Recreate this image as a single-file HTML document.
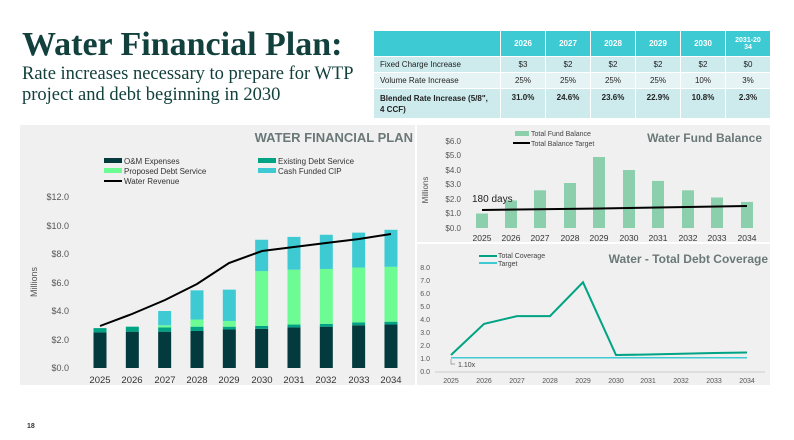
<!DOCTYPE html>
<html><head><meta charset="utf-8"><style>
body{margin:0;width:794px;height:440px;background:#fff;position:relative;overflow:hidden;font-family:"Liberation Sans",sans-serif}
.t{position:absolute;left:22px;top:26px;font:bold 34px "Liberation Serif",serif;color:#12403c}
.s{position:absolute;left:22px;top:64px;font:18.5px/21px "Liberation Serif",serif;color:#12403c}
table{position:absolute;left:373px;top:30px;border-collapse:collapse;font-size:8px;color:#222}
td{border:1px solid #fff;text-align:center;padding:0}
</style></head><body>
<div class="t">Water Financial Plan:</div>
<div class="s">Rate increases necessary to prepare for WTP<br>project and debt beginning in 2030</div>
<table>
<tr style="background:#3ecad3;color:#fff;font-weight:bold;height:26px"><td style="width:126px"></td><td style="width:44px">2026</td><td style="width:44px">2027</td><td style="width:44px">2028</td><td style="width:44px">2029</td><td style="width:44px">2030</td><td style="width:44px;font-size:7px">2031-20<br>34</td></tr>
<tr style="background:#cdeaec;height:16px"><td style="text-align:left;padding-left:6px">Fixed Charge Increase</td><td>$3</td><td>$2</td><td>$2</td><td>$2</td><td>$2</td><td>$0</td></tr>
<tr style="background:#e6f3f4;height:16px"><td style="text-align:left;padding-left:6px">Volume Rate Increase</td><td>25%</td><td>25%</td><td>25%</td><td>25%</td><td>10%</td><td>3%</td></tr>
<tr style="background:#cdeaec;height:30px;font-weight:bold"><td style="text-align:left;padding-left:6px;line-height:11px">Blended Rate Increase (5/8",<br>4 CCF)</td><td style="vertical-align:top;padding-top:4px">31.0%</td><td style="vertical-align:top;padding-top:4px">24.6%</td><td style="vertical-align:top;padding-top:4px">23.6%</td><td style="vertical-align:top;padding-top:4px">22.9%</td><td style="vertical-align:top;padding-top:4px">10.8%</td><td style="vertical-align:top;padding-top:4px">2.3%</td></tr>
</table>
<svg width="794" height="440" style="position:absolute;left:0;top:0" font-family="Liberation Sans,sans-serif">
<rect x="20" y="125" width="395" height="260" fill="#f0f0f0"/>
<rect x="417" y="125" width="353" height="117" fill="#f0f0f0"/>
<rect x="417" y="244" width="353" height="141" fill="#f0f0f0"/>
<text x="27" y="428" font-size="7" font-weight="bold" fill="#333">18</text>
<text x="413" y="142" text-anchor="end" font-size="13" font-weight="bold" fill="#6b7878">WATER FINANCIAL PLAN</text>
<g font-size="8" fill="#333">
<rect x="104" y="158" width="18" height="5" fill="#023a3e"/><text x="124" y="164">O&amp;M Expenses</text>
<rect x="258" y="158" width="18" height="5" fill="#00a383"/><text x="278" y="164">Existing Debt Service</text>
<rect x="104" y="168" width="18" height="5" fill="#6cfc93"/><text x="124" y="174">Proposed Debt Service</text>
<rect x="258" y="168" width="18" height="5" fill="#3ecad3"/><text x="278" y="174">Cash Funded CIP</text>
<line x1="104" y1="181" x2="122" y2="181" stroke="#000" stroke-width="2"/><text x="124" y="184">Water Revenue</text>
</g>
<g font-size="9" fill="#555" text-anchor="end">
<text x="69" y="371">$0.0</text><text x="69" y="343">$2.0</text><text x="69" y="314">$4.0</text><text x="69" y="286">$6.0</text><text x="69" y="257">$8.0</text><text x="69" y="229">$10.0</text><text x="69" y="200">$12.0</text>
</g>
<text transform="translate(37,282) rotate(-90)" font-size="9" fill="#555" text-anchor="middle">Millions</text>
<g id="bars"></g>
<polyline points="100,326 132,314 165,300 197,284 229,263 262,251 294,247 326,243 359,239 391,234" fill="none" stroke="#000" stroke-width="2"/>
<g font-size="9.5" fill="#333" text-anchor="middle">
<text x="100" y="383">2025</text><text x="132" y="383">2026</text><text x="165" y="383">2027</text><text x="197" y="383">2028</text><text x="229" y="383">2029</text><text x="262" y="383">2030</text><text x="294" y="383">2031</text><text x="326" y="383">2032</text><text x="359" y="383">2033</text><text x="391" y="383">2034</text>
</g>
<text x="762" y="142" text-anchor="end" font-size="12" font-weight="bold" fill="#6b7878">Water Fund Balance</text>
<rect x="515" y="131" width="14" height="5" fill="#8ccfad"/><text x="531" y="136" font-size="7" fill="#444">Total Fund Balance</text>
<line x1="513" y1="143" x2="530" y2="143" stroke="#000" stroke-width="2"/><text x="531" y="146" font-size="7" fill="#444">Total Balance Target</text>
<g font-size="8" fill="#555" text-anchor="end">
<text x="461" y="231">$0.0</text><text x="461" y="216">$1.0</text><text x="461" y="202">$2.0</text><text x="461" y="187">$3.0</text><text x="461" y="173">$4.0</text><text x="461" y="158">$5.0</text><text x="461" y="144">$6.0</text>
</g>
<text transform="translate(428,190) rotate(-90)" font-size="8" fill="#555" text-anchor="middle">Millions</text>
<g fill="#8ccfad">
<rect x="476" y="213.5" width="12" height="14.5"/><rect x="505" y="200.5" width="12" height="27.5"/><rect x="534" y="190.3" width="12" height="37.7"/><rect x="564" y="183" width="12" height="45"/><rect x="593" y="157" width="12" height="71"/><rect x="623" y="170" width="12" height="58"/><rect x="652" y="180.9" width="12" height="47.1"/><rect x="682" y="190.3" width="12" height="37.7"/><rect x="711" y="197.5" width="12" height="30.5"/><rect x="741" y="201.9" width="12" height="26.1"/>
</g>
<polyline points="482,210 600,208.5 747,206" fill="none" stroke="#000" stroke-width="2"/>
<text x="472" y="202" font-size="10" fill="#222">180 days</text>
<g font-size="8.5" fill="#333" text-anchor="middle">
<text x="482" y="241">2025</text><text x="511" y="241">2026</text><text x="540" y="241">2027</text><text x="570" y="241">2028</text><text x="599" y="241">2029</text><text x="629" y="241">2030</text><text x="658" y="241">2031</text><text x="688" y="241">2032</text><text x="717" y="241">2033</text><text x="747" y="241">2034</text>
</g>
<text x="768" y="263" text-anchor="end" font-size="12" font-weight="bold" fill="#6b7878">Water - Total Debt Coverage</text>
<line x1="479" y1="256" x2="497" y2="256" stroke="#00a383" stroke-width="2"/><text x="498" y="258" font-size="7" fill="#444">Total Coverage</text>
<line x1="479" y1="263" x2="497" y2="263" stroke="#3ecad3" stroke-width="2"/><text x="498" y="266" font-size="7" fill="#444">Target</text>
<g font-size="7" fill="#555" text-anchor="end">
<text x="430" y="374">0.0</text><text x="430" y="361">1.0</text><text x="430" y="348">2.0</text><text x="430" y="335">3.0</text><text x="430" y="322">4.0</text><text x="430" y="309">5.0</text><text x="430" y="296">6.0</text><text x="430" y="283">7.0</text><text x="430" y="270">8.0</text>
</g>
<line x1="435" y1="372" x2="765" y2="372" stroke="#ccc"/>
<line x1="451" y1="357.7" x2="747" y2="357.7" stroke="#3ecad3" stroke-width="1.5"/>
<polyline points="451,355 484,323.9 517,316.1 550,316.1 583,282.3 616,355 648,354.5 681,353.8 714,353 747,352.5" fill="none" stroke="#00a383" stroke-width="2"/>
<polyline points="451,359 451,364 455,364" fill="none" stroke="#888" stroke-width="0.7"/>
<text x="458" y="367" font-size="7" fill="#444">1.10x</text>
<g font-size="7" fill="#555" text-anchor="middle">
<text x="451" y="383">2025</text><text x="484" y="383">2026</text><text x="517" y="383">2027</text><text x="550" y="383">2028</text><text x="583" y="383">2029</text><text x="616" y="383">2030</text><text x="648" y="383">2031</text><text x="681" y="383">2032</text><text x="714" y="383">2033</text><text x="747" y="383">2034</text>
</g>
</svg>
<script>
var om=[2.5,2.55,2.55,2.6,2.7,2.75,2.85,2.9,3.0,3.05],ex=[.3,.35,.3,.3,.2,.2,.2,.2,.2,.2],pr=[0,0,.15,.5,.4,3.85,3.85,3.85,3.85,3.85],ca=[0,0,1.0,2.05,2.2,2.2,2.3,2.4,2.45,2.6];
var g=document.getElementById('bars'),s='',k=14.25;
for(var i=0;i<10;i++){var cx=100+i*32.33,y=368,arr=[[om[i],'#023a3e'],[ex[i],'#00a383'],[pr[i],'#6cfc93'],[ca[i],'#3ecad3']];
for(var j=0;j<4;j++){var h=arr[j][0]*k;if(h>0){y-=h;s+='<rect x="'+(cx-6.5)+'" y="'+y+'" width="13" height="'+h+'" fill="'+arr[j][1]+'"/>';}}}
g.innerHTML=s;
</script>
</body></html>
